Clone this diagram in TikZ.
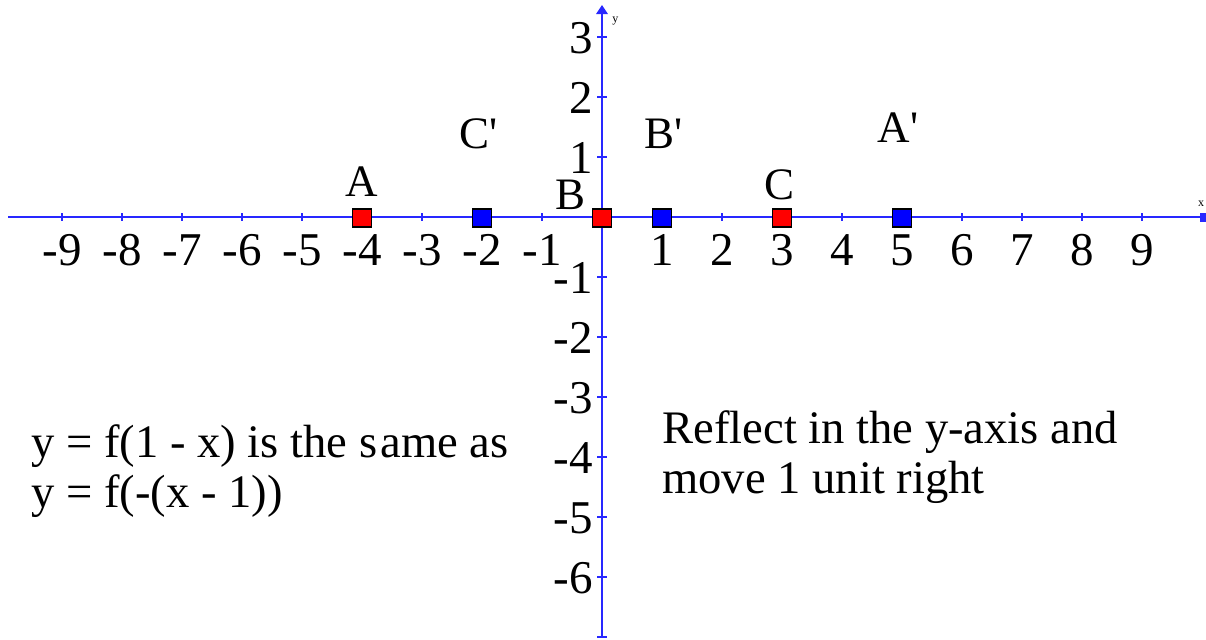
\documentclass[tikz,border=0pt]{standalone}
\usepackage{fontspec}
\setmainfont{Liberation Serif}
\definecolor{axisblue}{RGB}{40,40,255}
\definecolor{ptred}{RGB}{255,0,0}
\definecolor{ptblue}{RGB}{0,0,255}
\begin{document}
\begin{tikzpicture}[x=0.5pt,y=-0.5pt,
  axisline/.style={draw=axisblue, line width=1pt},
  tickline/.style={draw=axisblue, line width=0.7pt},
  ticklabel/.style={inner sep=0pt, font=\fontsize{23.5}{25}\selectfont},
  ptlabel/.style={inner sep=0pt, anchor=base, font=\fontsize{22.5}{25}\selectfont},
  bodytext/.style={inner sep=0pt, anchor=base west, font=\fontsize{23.3}{25}\selectfont},
  redpt/.style={draw=black, line width=0.6pt, fill=ptred, minimum width=9.5pt, minimum height=9pt, inner sep=0pt},
  bluept/.style={draw=black, line width=0.6pt, fill=ptblue, minimum width=9.5pt, minimum height=9pt, inner sep=0pt},
  axisname/.style={inner sep=0pt, font=\fontsize{6}{7}\selectfont}
]
\useasboundingbox (0,0) rectangle (1206,639);
% axes
\coordinate (xl) at (8,217);
\coordinate (xr) at (1201,217);
\coordinate (yb) at (602,637);
\coordinate (yt) at (602,12);
\draw[axisline] (xl) -- (xr);
\fill[axisblue] (1200,212.5) rectangle (1206,221.5);
\draw[axisline] (yb) -- (yt);
\fill[axisblue] (596,14) -- (602,5) -- (608,14) -- cycle;
\node[axisname, anchor=base] (xname) at (1201,206) {x};
\node[axisname, anchor=base west] (yname) at (612,22) {y};
% x ticks and labels
\foreach \k in {-9,...,-1,1,2,...,9} {
  \draw[tickline] ({602+60*\k},213) -- ({602+60*\k},221);
  \node[ticklabel, anchor=base] (xt\k) at ({602+60*\k},265) {\k};
}
% y ticks and labels
\foreach \k in {3,2,1,-1,-2,-3,-4,-5,-6} {
  \draw[tickline] (597,{217-60*\k}) -- (607,{217-60*\k});
  \node[ticklabel, anchor=base east] (yt\k) at (593,{217-60*\k+16}) {\k};
}
\draw[tickline] (597,637) -- (607,637);
% points
\node[redpt] (A) at (362,218) {};
\node[redpt] (B) at (602,218) {};
\node[redpt] (C) at (782,218) {};
\node[bluept] (Cp) at (482,218) {};
\node[bluept] (Bp) at (662,218) {};
\node[bluept] (Ap) at (902,218) {};
% point labels
\node[ptlabel] (lA) at (362,196) {A};
\node[ptlabel] (lB) at (571,209) {B};
\node[ptlabel] (lC) at (780,199) {C};
\node[ptlabel] (lCp) at (479,148) {C\textquotesingle};
\node[ptlabel] (lBp) at (664,148) {B\textquotesingle};
\node[ptlabel] (lAp) at (898,142) {A\textquotesingle};
% texts
\node[bodytext] (t1) at (31,457) {y = f(1 - x) is the s\kern1.5pt ame as};
\node[bodytext] (t2) at (31,507) {y = f(-(x - 1))};
\node[bodytext] (t3) at (662,443) {Reflect in the y-axis and};
\node[bodytext] (t4) at (662,493) {move 1 unit right};
\end{tikzpicture}
\end{document}
